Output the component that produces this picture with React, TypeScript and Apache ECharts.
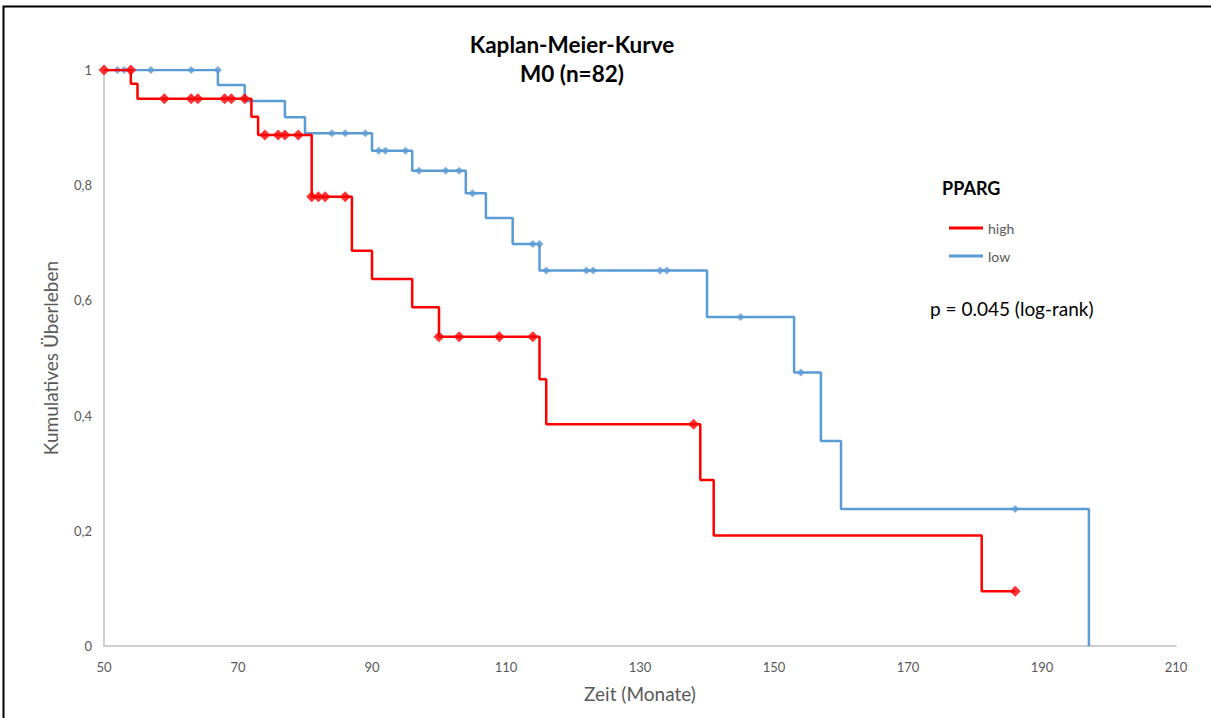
import React, { useEffect, useRef } from "react";
import * as echarts from "echarts";

// Kaplan-Meier steps: [time (months), cumulative survival]
const highSteps: [number, number][] = [
  [50, 1], [54, 0.976], [55, 0.95], [72, 0.919], [73, 0.887], [81, 0.78],
  [87, 0.686], [90, 0.637], [96, 0.588], [100, 0.537], [115, 0.463],
  [116, 0.385], [139, 0.288], [141, 0.192], [181, 0.095], [186, 0.095],
];
const lowSteps: [number, number][] = [
  [50, 1], [67, 0.974], [71, 0.946], [77, 0.918], [80, 0.89], [90, 0.86],
  [96, 0.825], [104, 0.786], [107, 0.743], [111, 0.698], [115, 0.652],
  [140, 0.571], [153, 0.475], [157, 0.356], [160, 0.238], [197, 0],
];
// censored observations
const highCensored: [number, number][] = [
  [50, 1], [54, 1],
  [59, 0.95], [63, 0.95], [64, 0.95], [68, 0.95], [69, 0.95], [71, 0.95],
  [74, 0.887], [76, 0.887], [77, 0.887], [79, 0.887],
  [81, 0.78], [82, 0.78], [83, 0.78], [86, 0.78],
  [100, 0.537], [103, 0.537], [109, 0.537], [114, 0.537],
  [138, 0.385], [186, 0.095],
];
const lowCensored: [number, number][] = [
  [52, 1], [53, 1], [57, 1], [63, 1], [67, 1],
  [84, 0.89], [86, 0.89], [89, 0.89],
  [91, 0.86], [92, 0.86], [95, 0.86],
  [97, 0.825], [101, 0.825], [103, 0.825],
  [105, 0.786],
  [114, 0.698], [115, 0.698],
  [116, 0.652], [122, 0.652], [123, 0.652], [133, 0.652], [134, 0.652],
  [145, 0.571], [154, 0.475], [186, 0.238],
];
const titleLines = ["Kaplan-Meier-Kurve", "M0 (n=82)"];
const legendTitle = "PPARG";
const pValueText = "p = 0.045 (log-rank)";
const xName = "Zeit (Monate)";
const yName = "Kumulatives Überleben";

const RED = "#FF0000";
const BLUE = "#5B9BD5";
const FONT = "Lato, 'Open Sans', sans-serif";

export default function App() {
  const ref = useRef<HTMLDivElement>(null);
  useEffect(() => {
    document.body.style.margin = "0";
    const chart = echarts.init(ref.current!, null, { renderer: "svg" });
    chart.setOption({
      animation: false,
      backgroundColor: "#ffffff",
      textStyle: { fontFamily: FONT },
      grid: { left: 104, top: 70, right: 35, bottom: 72, containLabel: false },
      xAxis: {
        type: "value",
        min: 50,
        max: 210,
        interval: 20,
        name: xName,
        nameLocation: "middle",
        nameGap: 38,
        nameTextStyle: { color: "#595959", fontSize: 19, fontFamily: FONT },
        axisLine: { show: true, lineStyle: { color: "#BFBFBF", width: 1.5 } },
        axisTick: { show: false },
        splitLine: { show: false },
        axisLabel: { color: "#595959", fontSize: 13, margin: 14, fontFamily: FONT },
      },
      yAxis: {
        type: "value",
        min: 0,
        max: 1,
        interval: 0.2,
        name: yName,
        nameLocation: "middle",
        nameGap: 44,
        nameTextStyle: { color: "#595959", fontSize: 19, fontFamily: FONT },
        axisLine: { show: true, lineStyle: { color: "#BFBFBF", width: 1.5 } },
        axisTick: { show: false },
        splitLine: { show: false },
        axisLabel: {
          color: "#595959",
          fontSize: 13,
          margin: 12,
          fontFamily: FONT,
          formatter: (v: number) => String(Math.round(v * 10) / 10).replace(".", ","),
        },
      },
      legend: {
        data: [
          { name: "high", icon: "rect" },
          { name: "low", icon: "rect" },
        ],
        orient: "vertical",
        left: 944,
        top: 216,
        itemWidth: 34,
        itemHeight: 3,
        itemGap: 14,
        textStyle: { color: "#595959", fontSize: 14, fontFamily: FONT },
        selectedMode: false,
      },
      series: [
        {
          name: "low",
          type: "line",
          step: "end",
          data: lowSteps,
          showSymbol: false,
          itemStyle: { color: BLUE },
          lineStyle: { color: BLUE, width: 2.5 },
          z: 2,
        },
        {
          name: "lowCens",
          type: "scatter",
          data: lowCensored,
          symbol: "diamond",
          symbolSize: 8,
          itemStyle: { color: BLUE },
          z: 3,
        },
        {
          name: "high",
          type: "line",
          step: "end",
          data: highSteps,
          showSymbol: false,
          itemStyle: { color: RED },
          lineStyle: { color: RED, width: 2.5 },
          z: 4,
        },
        {
          name: "highCens",
          type: "scatter",
          data: highCensored,
          symbol: "diamond",
          symbolSize: 11,
          itemStyle: { color: RED },
          z: 5,
        },
      ],
      graphic: [
        {
          type: "rect",
          shape: { x: 3.5, y: 6.5, width: 1300, height: 900 },
          style: { fill: "none", stroke: "#000000", lineWidth: 2 },
          silent: true,
        },
        {
          type: "text",
          x: 572,
          y: 44,
          style: {
            text: titleLines[0],
            fontSize: 22.5,
            fontWeight: "bold",
            fontFamily: FONT,
            fill: "#000000",
            align: "center",
            verticalAlign: "middle",
          },
        },
        {
          type: "text",
          x: 572,
          y: 73,
          style: {
            text: titleLines[1],
            fontSize: 22.5,
            fontWeight: "bold",
            fontFamily: FONT,
            fill: "#000000",
            align: "center",
            verticalAlign: "middle",
          },
        },
        {
          type: "text",
          x: 942,
          y: 188,
          style: {
            text: legendTitle,
            fontSize: 18,
            fontWeight: "bold",
            fontFamily: FONT,
            fill: "#000000",
            align: "left",
            verticalAlign: "middle",
          },
        },
        {
          type: "text",
          x: 930,
          y: 308,
          style: {
            text: pValueText,
            fontSize: 19,
            fontFamily: FONT,
            fill: "#000000",
            align: "left",
            verticalAlign: "middle",
          },
        },
      ],
    });
    return () => chart.dispose();
  }, []);
  return <div ref={ref} style={{ width: 1211, height: 718 }} />;
}
